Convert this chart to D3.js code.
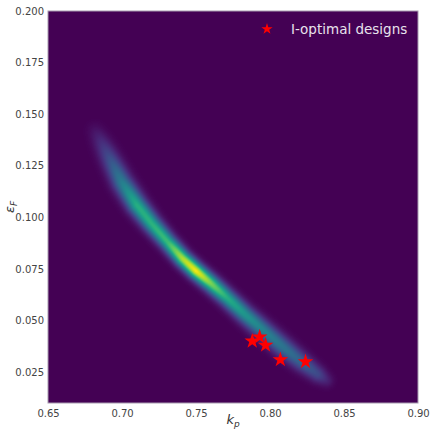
<!DOCTYPE html>
<html>
<head>
<meta charset="utf-8">
<script src="https://cdn.jsdelivr.net/npm/d3@7"></script>
<style>
  body { margin: 0; background: #fff; }
  text { font-family: "DejaVu Sans", sans-serif; }
</style>
</head>
<body>
<script>
var width = 432, height = 431;
var margin = {top: 11, right: 14, bottom: 28, left: 48};

// ridge of the posterior density
var ridgeKp = [0.682, 0.690, 0.700, 0.710, 0.720, 0.731, 0.741, 0.750, 0.760, 0.771, 0.783, 0.796, 0.809, 0.821, 0.832, 0.838];
var ridgeEps = [0.142, 0.131, 0.117, 0.106, 0.097, 0.088, 0.080, 0.074, 0.068, 0.061, 0.053, 0.045, 0.037, 0.030, 0.024, 0.021];
var ridgeDensity = [0.04, 0.20, 0.42, 0.62, 0.64, 0.68, 0.88, 0.98, 0.80, 0.62, 0.52, 0.44, 0.38, 0.31, 0.22, 0.09];
var ridgeSpread = [0.0038, 0.0043, 0.0045, 0.0043, 0.0040, 0.0037, 0.0036, 0.0036, 0.0037, 0.0038, 0.0040, 0.0042, 0.0043, 0.0041, 0.0037, 0.0032];

// I-optimal designs
var designKp = [0.788, 0.793, 0.797, 0.807, 0.824];
var designEps = [0.040, 0.042, 0.038, 0.031, 0.030];

var xTicks = [0.65, 0.70, 0.75, 0.80, 0.85, 0.90];
var yTicks = [0.025, 0.050, 0.075, 0.100, 0.125, 0.150, 0.175, 0.200];

var svg = d3.select("body").append("svg")
    .attr("width", width)
    .attr("height", height);

var w = width - margin.left - margin.right,
    h = height - margin.top - margin.bottom;

var x = d3.scaleLinear().domain([0.65, 0.90]).range([margin.left, margin.left + w]);
var y = d3.scaleLinear().domain([0.01, 0.20]).range([margin.top + h, margin.top]);

// build a dense ridge in pixel space
var ridge = [];
for (var i = 0; i < ridgeKp.length - 1; i++) {
    for (var s = 0; s < 20; s++) {
        var t = s / 20;
        ridge.push({
            px: x(ridgeKp[i] + t * (ridgeKp[i+1] - ridgeKp[i])),
            py: y(ridgeEps[i] + t * (ridgeEps[i+1] - ridgeEps[i])),
            d: ridgeDensity[i] + t * (ridgeDensity[i+1] - ridgeDensity[i]),
            s: (ridgeSpread[i] + t * (ridgeSpread[i+1] - ridgeSpread[i])) * w / 0.25
        });
    }
}
var last = ridgeKp.length - 1;
ridge.push({px: x(ridgeKp[last]), py: y(ridgeEps[last]), d: ridgeDensity[last], s: ridgeSpread[last] * w / 0.25});

var canvas = document.createElement("canvas");
canvas.width = Math.round(w);
canvas.height = Math.round(h);
var ctx = canvas.getContext("2d");
var img = ctx.createImageData(canvas.width, canvas.height);
for (var j = 0; j < canvas.height; j++) {
    for (var k = 0; k < canvas.width; k++) {
        var px = margin.left + k + 0.5, py = margin.top + j + 0.5, v = 0;
        for (var r = 0; r < ridge.length; r++) {
            var dx = px - ridge[r].px, dy = py - ridge[r].py;
            var q = ridge[r].d * Math.exp(-(dx*dx + dy*dy) / (2 * ridge[r].s * ridge[r].s));
            if (q > v) v = q;
        }
        var c = d3.rgb(d3.interpolateViridis(Math.min(1, v)));
        var idx = (j * canvas.width + k) * 4;
        img.data[idx] = c.r; img.data[idx+1] = c.g; img.data[idx+2] = c.b; img.data[idx+3] = 255;
    }
}
ctx.putImageData(img, 0, 0);

svg.append("image")
    .attr("x", margin.left).attr("y", margin.top)
    .attr("width", w).attr("height", h)
    .attr("preserveAspectRatio", "none")
    .attr("href", canvas.toDataURL());

svg.append("rect")
    .attr("x", margin.left).attr("y", margin.top)
    .attr("width", w).attr("height", h)
    .attr("fill", "none")
    .attr("stroke", "#a89cb0")
    .attr("stroke-width", 1);

// axes, labels only (no tick marks)
var xAxis = svg.append("g")
    .attr("transform", "translate(0," + (margin.top + h) + ")")
    .call(d3.axisBottom(x).tickValues(xTicks).tickFormat(d3.format(".2f")).tickSize(0).tickPadding(7));
var yAxis = svg.append("g")
    .attr("transform", "translate(" + margin.left + ",0)")
    .call(d3.axisLeft(y).tickValues(yTicks).tickFormat(d3.format(".3f")).tickSize(0).tickPadding(4));
[xAxis, yAxis].forEach(function(a) {
    a.select(".domain").remove();
    a.selectAll("text").style("font-size", "10px").attr("fill", "#444");
});

var star = d3.symbol().type(d3.symbolStar);

svg.selectAll(".design")
    .data(designKp)
    .enter().append("path")
    .attr("class", "design")
    .attr("d", star.size(75))
    .attr("transform", function(d, i) { return "translate(" + x(d) + "," + y(designEps[i]) + ")"; })
    .attr("fill", "#ff0000");

// legend
svg.append("path")
    .attr("d", star.size(40))
    .attr("transform", "translate(267,29)")
    .attr("fill", "#ff0000");
svg.append("text")
    .attr("x", 291).attr("y", 34)
    .attr("fill", "#e8e2ec")
    .style("font-size", "13.5px")
    .text("I-optimal designs");

// axis titles
var xl = svg.append("text")
    .attr("x", margin.left + w / 2).attr("y", 424)
    .attr("text-anchor", "middle")
    .attr("fill", "#333")
    .style("font-size", "13px")
    .style("font-style", "italic");
xl.append("tspan").text("k");
xl.append("tspan").attr("dy", 3).style("font-size", "9px").text("p");

var yl = svg.append("text")
    .attr("transform", "translate(14," + (margin.top + h / 2) + ") rotate(-90)")
    .attr("text-anchor", "middle")
    .attr("fill", "#333")
    .style("font-size", "13px")
    .style("font-style", "italic");
yl.append("tspan").text("ε");
yl.append("tspan").attr("dy", 3).style("font-size", "9px").text("F");
</script>
</body>
</html>
